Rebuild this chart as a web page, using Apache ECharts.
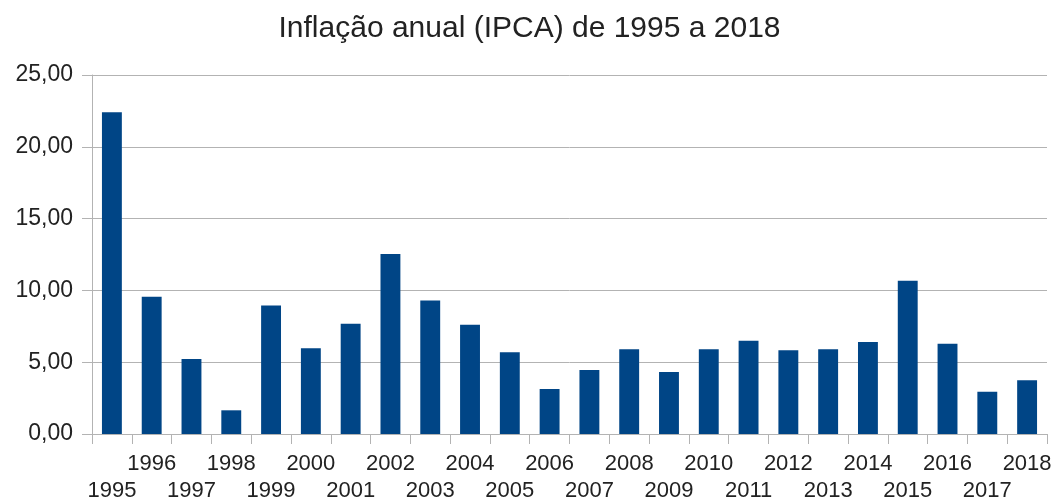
<!DOCTYPE html>
<html>
<head>
<meta charset="utf-8">
<script src="https://cdn.jsdelivr.net/npm/echarts@6/dist/echarts.min.js"></script>
<style>
html, body { margin: 0; padding: 0; background: #fff; }
#chart { width: 1059px; height: 504px; }
</style>
</head>
<body>
<div id="chart"></div>
<script>
var anos = ['1995','1996','1997','1998','1999','2000','2001','2002','2003','2004','2005','2006',
	'2007','2008','2009','2010','2011','2012','2013','2014','2015','2016','2017','2018'];
var ipca = [22.41, 9.56, 5.22, 1.65, 8.94, 5.97, 7.67, 12.53, 9.30, 7.60, 5.69, 3.14,
	4.46, 5.90, 4.31, 5.91, 6.50, 5.84, 5.91, 6.41, 10.67, 6.29, 2.95, 3.75];
var yTicks = [0, 5, 10, 15, 20, 25];

var fonte = 'Liberation Sans, Arial, sans-serif';
var chart = echarts.init(document.getElementById('chart'));

var option = {
	animation: false,
	title: {
		text: 'Inflação anual (IPCA) de 1995 a 2018',
		left: 'center',
		top: 9,
		textStyle: { fontFamily: fonte, fontSize: 30, fontWeight: 'normal', color: '#222' }
	},
	grid: { left: 92, right: 12, top: 75, bottom: 70 },
	xAxis: {
		type: 'category',
		data: anos,
		axisLine: { lineStyle: { color: '#b3b3b3' } },
		axisTick: { show: true, length: 10, alignWithLabel: false, lineStyle: { color: '#b3b3b3' } },
		axisLabel: {
			interval: 0,
			margin: 16,
			fontFamily: fonte,
			fontSize: 22,
			color: '#222',
			lineHeight: 27,
			formatter: function (v, i) {
				// rótulos alternados em duas linhas
				return i % 2 === 0 ? '\n' + v : v + '\n';
			}
		}
	},
	yAxis: {
		type: 'value',
		min: yTicks[0],
		max: yTicks[yTicks.length - 1],
		interval: 5,
		axisLine: { show: true, lineStyle: { color: '#b3b3b3' } },
		axisTick: { show: true, length: 10, lineStyle: { color: '#b3b3b3' } },
		splitLine: { lineStyle: { color: '#b3b3b3' } },
		axisLabel: {
			margin: 19,
			fontFamily: fonte,
			fontSize: 23,
			color: '#222',
			formatter: function (v) { return v.toFixed(2).replace('.', ','); }
		}
	},
	series: [{
		type: 'bar',
		data: ipca,
		barWidth: '50%',
		itemStyle: { color: '#004586' }
	}]
};
chart.setOption(option);
</script>
</body>
</html>
